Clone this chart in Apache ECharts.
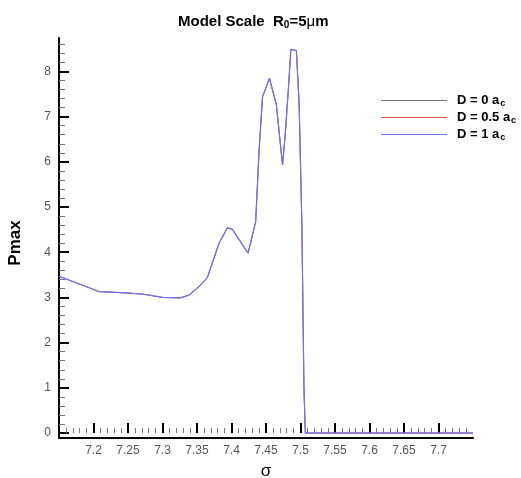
<!DOCTYPE html>
<html>
<head>
<meta charset="utf-8">
<script src="https://cdn.jsdelivr.net/npm/echarts@6/dist/echarts.min.js"></script>
<style>html,body{margin:0;padding:0;background:#fff;}#c{width:521px;height:478px;}</style>
</head>
<body>
<div id="c"></div>
<script>
const sigma   = [7.15, 7.208, 7.247, 7.273, 7.30, 7.326, 7.338, 7.353, 7.365, 7.382, 7.394, 7.401, 7.424, 7.435, 7.440, 7.445, 7.455, 7.465, 7.474, 7.478, 7.483, 7.486, 7.494, 7.498, 7.502, 7.505, 7.507, 7.75];
const pmaxD0  = [3.47, 3.13, 3.10, 3.07, 3.00, 2.99, 3.05, 3.24, 3.44, 4.20, 4.54, 4.51, 3.98, 4.67, 6.26, 7.44, 7.85, 7.26, 5.93, 6.63, 7.74, 8.49, 8.46, 7.30, 4.60, 1.00, 0, 0];
const pmaxD05 = [3.47, 3.13, 3.10, 3.07, 3.00, 2.99, 3.05, 3.24, 3.44, 4.20, 4.54, 4.51, 3.98, 4.67, 6.26, 7.44, 7.85, 7.26, 5.93, 6.63, 7.74, 8.49, 8.46, 7.30, 4.60, 1.00, 0, 0];
const pmaxD1  = [3.47, 3.13, 3.10, 3.07, 3.00, 2.99, 3.05, 3.24, 3.44, 4.20, 4.54, 4.51, 3.98, 4.67, 6.26, 7.44, 7.85, 7.26, 5.93, 6.63, 7.74, 8.49, 8.46, 7.30, 4.60, 1.00, 0, 0];
const seriesNames = ['D = 0 a', 'D = 0.5 a', 'D = 1 a'];
const xTickLabels = [7.2, 7.25, 7.3, 7.35, 7.4, 7.45, 7.5, 7.55, 7.6, 7.65, 7.7];
const yTickLabels = [0, 1, 2, 3, 4, 5, 6, 7, 8];

const X_MIN = 7.15, X_MAX = 7.75, Y_MIN = -0.11, Y_MAX = 8.74;
const xMinor = [];
for (let i = 716; i <= 774; i++) xMinor.push(+(i / 100).toFixed(2));
const yMinor = [];
for (let i = 1; i <= 43; i++) yMinor.push(+(i * 0.2).toFixed(1));

function pairs(xs, ys) { return xs.map((x, i) => [x, ys[i]]); }
function tickAxis(min, max, pos, values, len, color, width) {
  return {
    type: 'value', min: min, max: max, position: pos,
    axisLine: { show: false },
    axisTick: { show: true, inside: true, length: len, customValues: values, lineStyle: { color: color, width: width } },
    axisLabel: { show: false },
    splitLine: { show: false }
  };
}

const FONT = 'Liberation Sans';
const COLORS = ['#777777', '#e05050', '#6f6fff'];
const chart = echarts.init(document.getElementById('c'), null, { renderer: 'canvas' });
chart.setOption({
  animation: false,
  backgroundColor: '#fff',
  textStyle: { fontFamily: FONT },
  title: {
    text: 'Model Scale  R{sub|0}=5{mu|μ}m',
    left: 173, top: 8,
    textStyle: {
      fontFamily: FONT, fontSize: 15, fontWeight: 'bold', color: '#000',
      rich: {
        sub: { fontSize: 10, fontWeight: 'bold', fontFamily: FONT, padding: [7, 0, 0, 0], color: '#000' },
        mu: { fontSize: 15, fontWeight: 'normal', fontFamily: FONT, color: '#000' }
      }
    }
  },
  legend: {
    orient: 'vertical', left: 376, top: 89, align: 'left',
    icon: 'rect', itemWidth: 66, itemHeight: 1, itemGap: 3,
    data: seriesNames,
    formatter: n => n + '{s|c}',
    textStyle: {
      fontFamily: FONT, fontSize: 13, fontWeight: 'bold', color: '#000', padding: [0, 0, 0, 5],
      rich: { s: { fontSize: 9, fontWeight: 'bold', fontFamily: FONT, color: '#000', padding: [6, 0, 0, 1] } }
    }
  },
  grid: { left: 59, right: 48, top: 38, bottom: 40, containLabel: false, outerBoundsMode: 'none' },
  xAxis: [{
    type: 'value', min: X_MIN, max: X_MAX, position: 'bottom',
    name: 'σ', nameLocation: 'middle', nameGap: 25,
    nameTextStyle: { fontFamily: FONT, fontSize: 17, color: '#000' },
    axisLine: { show: true, onZero: false, lineStyle: { color: '#000', width: 2 } },
    axisTick: { show: false },
    axisLabel: { show: true, customValues: xTickLabels, margin: 7, color: '#555', fontSize: 12, fontFamily: FONT },
    splitLine: { show: false }
  },
  tickAxis(X_MIN, X_MAX, 'bottom', xMinor, 5, '#777', 1),
  tickAxis(X_MIN, X_MAX, 'bottom', xTickLabels, 10, '#000', 2)
  ],
  yAxis: [{
    type: 'value', min: Y_MIN, max: Y_MAX, position: 'left',
    name: 'Pmax', nameLocation: 'middle', nameGap: 35, nameRotate: 90,
    nameTextStyle: { fontFamily: FONT, fontSize: 17, fontWeight: 'bold', color: '#000', padding: [0, 10, 0, 0] },
    axisLine: { show: true, onZero: false, lineStyle: { color: '#000', width: 2 } },
    axisTick: { show: false },
    axisLabel: { show: true, customValues: yTickLabels, margin: 8, color: '#555', fontSize: 12, fontFamily: FONT },
    splitLine: { show: false }
  },
  tickAxis(Y_MIN, Y_MAX, 'left', yMinor, 6, '#777', 1),
  tickAxis(Y_MIN, Y_MAX, 'left', yTickLabels, 10, '#000', 2)
  ],
  series: [
    { name: seriesNames[0], type: 'line', xAxisIndex: 0, yAxisIndex: 0, symbol: 'none', data: pairs(sigma, pmaxD0), lineStyle: { color: COLORS[0], width: 0.8 }, itemStyle: { color: COLORS[0] } },
    { name: seriesNames[1], type: 'line', xAxisIndex: 0, yAxisIndex: 0, symbol: 'none', data: pairs(sigma, pmaxD05), lineStyle: { color: COLORS[1], width: 0.8 }, itemStyle: { color: COLORS[1] } },
    { name: seriesNames[2], type: 'line', xAxisIndex: 0, yAxisIndex: 0, symbol: 'none', data: pairs(sigma, pmaxD1), lineStyle: { color: COLORS[2], width: 1.2 }, itemStyle: { color: COLORS[2] } }
  ]
});
</script>
</body>
</html>
